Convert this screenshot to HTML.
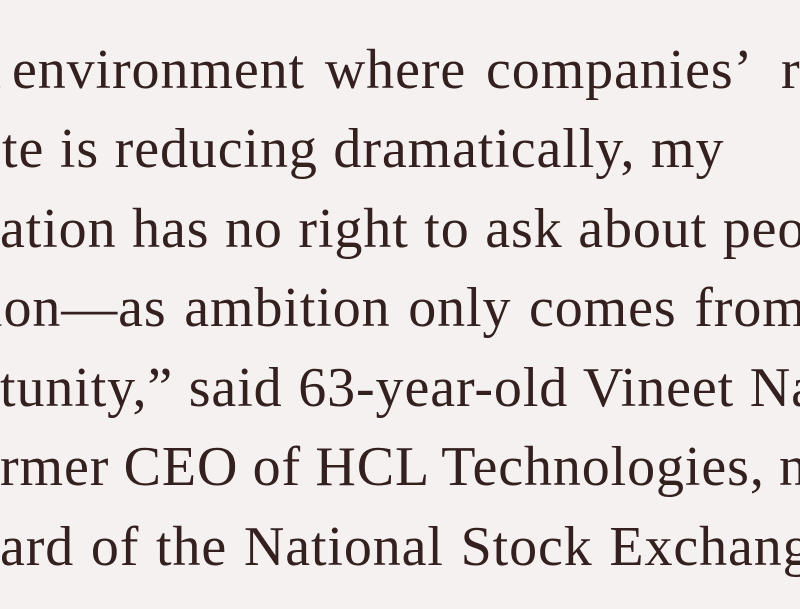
<!DOCTYPE html>
<html>
<head>
<meta charset="utf-8">
<style>
  html, body { margin:0; padding:0; background:#f5f1f0; }
  body { width:800px; height:609px; overflow:hidden; }
  svg { display:block; }
  text { font-family:"Liberation Serif", serif; font-size:56px; fill:#33201f; letter-spacing:0.9px; }
</style>
</head>
<body>
<svg width="800" height="609" viewBox="0 0 800 609" xmlns="http://www.w3.org/2000/svg">
  <rect width="800" height="609" fill="#f5f1f0"/>
  <text x="-27" y="88">n</text>
  <text x="12" y="88" style="word-spacing:5px">environment where companies’</text>
  <text x="781" y="88">re</text>
  <text x="2" y="167" style="word-spacing:0.75px">te is reducing dramatically, my</text>
  <text x="0" y="247" style="word-spacing:0.7px">ation has no right to ask about people’s</text>
  <text x="-13" y="326" style="word-spacing:2.75px">ion—as ambition only comes from</text>
  <text x="0" y="406" style="word-spacing:0.75px">tunity,” said 63-year-old Vineet Nayar</text>
  <text x="0" y="485" style="word-spacing:-0.6px">rmer CEO of HCL Technologies, now</text>
  <text x="0" y="565" style="word-spacing:1.8px">ard of the National Stock Exchange</text>
</svg>
</body>
</html>
